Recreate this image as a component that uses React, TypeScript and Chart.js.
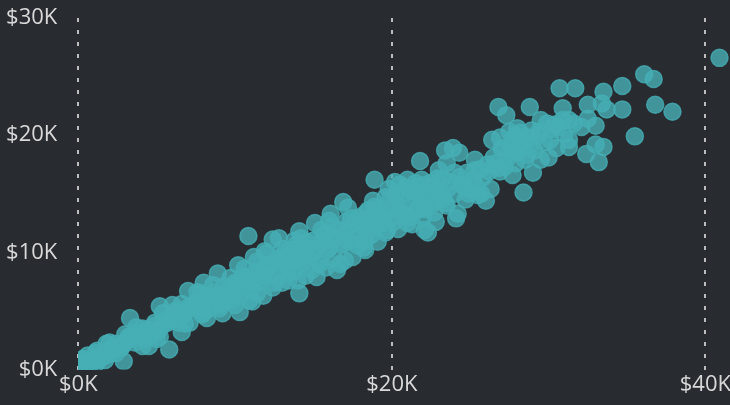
import React, { useEffect, useRef } from "react";
import { Chart, registerables } from "chart.js";

Chart.register(...registerables);

const xTicks = [0, 20, 40];
const yTicks = [0, 10, 20, 30];

// values, in $K
const costK = [
  40.9, 36.1, 36.7, 34.7, 30.7, 31.7, 33.5, 36.8, 37.9, 34.7,
  33.7, 33.4, 32.5, 30.9, 28.8, 26.8, 27.3, 35.5, 33.0, 33.5,
  32.4, 33.2, 31.3, 33.0, 32.5, 32.1, 30.9, 31.3, 31.3, 30.1,
  30.0, 29.5, 29.9, 29.0, 28.4, 27.7, 28.0, 26.4, 26.9, 26.5,
  26.8, 27.7, 28.3, 28.7, 29.1, 28.5, 27.4, 27.9, 27.2, 28.0,
  25.3, 23.4, 23.9, 24.3, 21.8, 18.9, 23.5, 23.0, 24.8, 25.3,
  25.8, 24.9, 25.4, 26.3, 26.0, 24.2, 24.1, 22.8, 22.3, 22.1,
  21.3, 19.7, 23.4, 20.2, 21.0, 21.9, 22.6, 23.2, 20.7, 21.5,
  22.3, 23.2, 21.0, 21.9, 22.8, 20.2, 19.6, 18.8, 19.1, 18.3,
  20.0, 20.7, 18.8, 18.3, 19.4, 16.9, 17.2, 16.1, 15.1, 16.0,
  14.1, 14.2, 12.4, 12.8, 11.9, 11.2, 10.2, 8.9, 8.0, 7.0,
  6.6, 5.4, 16.5, 15.2, 14.5, 13.0, 12.4, 11.4, 11.1, 10.3,
  9.2, 8.2, 7.1, 6.6, 4.1, 5.0, 18.2, 17.0, 3.3, 5.2,
  5.8, 10.85, 14.1, 2.9, 1.8, 2.4, 0.6, 1.1, 1.7, 4.1,
  3.5, 2.9, 2.4, 0.1, 0.2, 0.4, 0.3, 0.7, 0.9, 1.3,
  1.5, 2.0, 2.6, 3.1, 3.8, 4.4, 4.8, 5.5, 6.0, 6.3,
  6.9, 7.4, 7.7, 8.3, 8.7, 9.3, 9.6, 10.0, 10.5, 10.9,
  11.5, 11.8, 12.2, 12.7, 13.2, 13.6, 14.0, 14.6, 15.0, 15.5,
  15.9, 16.4, 17.0, 17.5, 17.9, 18.4, 19.0, 19.5, 6.2, 7.3,
  8.5, 9.0, 9.9, 10.7, 11.3, 12.0, 13.4, 14.3, 15.3, 16.2,
  16.8, 17.7, 18.6, 20.4, 21.2, 22.0, 22.5, 7.8, 9.4, 13.8,
  12.9, 15.7, 17.3, 19.2, 20.5, 21.7, 22.9, 23.6, 24.5, 25.0,
  25.6, 27.0, 27.5, 28.2, 28.9, 29.4, 30.4, 31.0, 0.1, 0.3,
  0.5, 0.8, 1.0, 1.2, 1.6, 2.2, 2.7, 3.4, 4.6, 5.7,
  1.0, 0.5, 0.2, 1.4, 1.9, 2.3, 2.8, 3.2, 3.6, 3.9,
  4.3, 4.7, 5.1, 5.4, 5.9, 6.4, 6.7, 7.0, 7.5, 7.9,
  8.1, 8.4, 8.8, 9.1, 9.5, 9.8, 10.1, 10.4, 10.8, 11.0,
  11.3, 11.6, 12.1, 12.3, 12.6, 12.9, 13.1, 13.3, 13.5, 13.7,
  13.9, 14.2, 14.4, 14.7, 15.0, 15.2, 15.4, 15.8, 16.0, 16.3,
  16.6, 16.9, 17.2, 17.4, 17.8, 18.1, 18.5, 18.7, 19.0, 19.3,
  19.6, 19.9, 20.1, 20.3, 20.6, 20.9, 21.1, 21.4, 21.6, 21.8,
  22.1, 22.4, 22.7, 23.0, 23.3, 23.7, 24.0, 24.3, 24.6, 25.2,
  25.5, 26.2, 26.6, 27.1, 27.6, 27.9, 28.1, 28.6, 28.9, 29.3,
  29.7, 30.2, 30.6, 31.6, 6.0, 6.8, 7.6, 8.0, 8.6, 9.0,
  9.7, 10.0, 10.6, 10.9, 11.4, 11.8, 12.0, 12.5, 13.0, 13.4,
  13.8, 14.0, 14.6, 14.9, 15.5, 15.8, 16.2, 16.7, 17.1, 17.5,
  17.9, 18.3, 18.9, 19.1, 19.8, 20.4, 21.0, 21.5, 22.0, 22.9,
  23.5, 24.0, 24.7, 25.7, 26.1, 26.9, 27.5, 29.5, 30.5, 3.0,
  3.7, 4.5, 4.9, 5.2, 2.0, 1.2,
];
const revenueK = [
  26.6, 25.2, 24.8, 24.2, 24.0, 24.0, 23.7, 22.6, 22.0, 22.2,
  22.2, 22.7, 22.6, 22.3, 22.4, 22.4, 21.7, 19.9, 19.2, 19.0,
  18.4, 17.7, 19.0, 20.8, 21.4, 20.7, 21.3, 21.3, 19.6, 19.6,
  18.1, 21.3, 21.0, 16.8, 15.1, 16.6, 20.6, 19.6, 19.8, 18.1,
  17.2, 19.6, 19.3, 19.8, 18.7, 17.9, 18.1, 17.6, 17.3, 18.5,
  17.9, 18.7, 18.9, 18.5, 17.8, 16.2, 17.6, 17.0, 16.8, 17.0,
  16.4, 15.0, 15.6, 15.4, 14.4, 13.3, 12.9, 12.6, 11.7, 11.9,
  12.4, 11.9, 14.2, 16.0, 16.2, 16.2, 15.6, 16.3, 15.0, 14.7,
  14.7, 15.0, 14.2, 14.4, 14.4, 14.2, 14.7, 14.4, 13.3, 13.3,
  13.0, 13.3, 12.1, 11.0, 12.5, 14.3, 13.8, 13.3, 12.5, 12.7,
  11.8, 11.2, 11.1, 11.2, 10.1, 9.6, 8.9, 8.2, 7.4, 6.7,
  5.6, 4.8, 8.5, 7.9, 8.0, 7.4, 7.0, 6.5, 5.8, 4.9,
  4.8, 4.4, 4.0, 3.2, 2.0, 2.6, 10.4, 9.3, 4.4, 5.4,
  1.7, 11.4, 6.5, 0.7, 2.2, 2.2, 1.2, 1.4, 0.8, 3.5,
  3.0, 2.2, 1.4, 0.3, 0.6, 0.2, 0.9, 0.4, 0.7, 1.0,
  1.2, 1.3, 1.9, 2.5, 2.9, 3.4, 3.7, 4.2, 4.5, 4.9,
  5.2, 5.6, 5.9, 6.2, 6.6, 7.1, 6.9, 7.4, 7.9, 7.6,
  8.3, 8.0, 8.9, 9.4, 9.0, 9.9, 9.4, 10.3, 10.0, 10.8,
  10.2, 11.3, 11.6, 11.1, 12.0, 11.8, 12.5, 13.1, 5.0, 5.4,
  6.0, 6.1, 6.4, 6.9, 7.5, 8.5, 8.6, 9.7, 9.2, 11.0,
  10.7, 12.6, 12.9, 13.6, 15.4, 15.7, 14.0, 6.5, 5.8, 8.4,
  9.5, 11.4, 12.2, 13.8, 15.8, 13.7, 15.4, 15.5, 15.8, 15.3,
  17.1, 18.9, 18.5, 20.2, 20.4, 20.3, 20.9, 20.1, 0.1, 0.1,
  0.4, 0.5, 0.2, 0.6, 1.1, 1.6, 1.8, 2.6, 3.0, 4.0,
  0.9, 0.6, 0.8, 1.0, 1.6, 1.8, 2.0, 2.8, 2.3, 3.0,
  2.6, 3.1, 3.3, 3.8, 4.2, 4.0, 4.7, 5.1, 5.3, 4.7,
  5.7, 5.2, 6.3, 5.6, 6.6, 6.0, 7.3, 6.4, 7.9, 7.0,
  8.3, 7.5, 8.9, 8.0, 9.3, 8.4, 9.8, 8.2, 10.2, 9.2,
  10.6, 9.0, 10.0, 9.4, 11.0, 10.3, 9.0, 11.6, 10.4, 9.5,
  11.9, 10.8, 11.0, 12.9, 10.6, 12.4, 13.6, 11.5, 12.7, 13.2,
  11.7, 14.5, 12.6, 15.0, 13.8, 15.5, 13.0, 15.2, 13.6, 15.0,
  13.7, 15.9, 13.4, 15.2, 14.6, 16.0, 15.0, 16.4, 15.6, 16.2,
  14.9, 16.9, 17.6, 18.8, 19.0, 20.0, 18.9, 18.3, 19.2, 20.0,
  19.4, 20.5, 20.7, 21.0, 5.5, 3.9, 6.6, 4.9, 7.2, 5.2,
  7.8, 5.5, 8.6, 5.9, 9.2, 6.3, 9.9, 7.4, 10.3, 7.6,
  11.0, 7.6, 10.9, 8.5, 11.9, 8.7, 12.2, 9.0, 12.6, 9.6,
  13.0, 10.2, 13.9, 10.9, 15.4, 12.0, 12.5, 15.9, 13.0, 16.3,
  14.0, 16.8, 14.5, 15.0, 17.5, 16.9, 20.3, 17.9, 18.9, 3.0,
  3.6, 2.0, 4.0, 2.8, 2.3, 1.6,
];

const money = (v: number | string) => `$${v}K`;

export default function App() {
  const ref = useRef<HTMLCanvasElement>(null);
  useEffect(() => {
    document.body.style.margin = "0";
    document.body.style.background = "#282b30";
    const chart = new Chart(ref.current!, {
      type: "scatter",
      data: {
        datasets: [
          {
            data: costK.map((x, i) => ({ x, y: revenueK[i] })),
            backgroundColor: "rgba(70,175,181,0.8)",
            borderColor: "rgba(70,175,181,0.8)",
            borderWidth: 1.5,
            pointRadius: 8.5,
            clip: { left: 0, bottom: 0, right: false, top: false },
          },
        ],
      },
      options: {
        responsive: false,
        animation: false,
        layout: { autoPadding: false, padding: { top: 18, right: 0, left: 0, bottom: 0 } },
        plugins: { legend: { display: false }, tooltip: { enabled: false } },
        scales: {
          x: {
            type: "linear",
            min: 0,
            max: 41.57,
            afterBuildTicks: (s: any) => {
              s.ticks = xTicks.map((value) => ({ value }));
            },
            afterFit: (s: any) => {
              s.height = 35.5;
              s.paddingLeft = 0;
              s.paddingRight = 0;
            },
            border: { display: false, dash: [4, 8] },
            grid: {
              color: "rgba(215,215,215,0.85)",
              lineWidth: 2,
              drawTicks: false,
            },
            ticks: {
              color: "#d9d9d9",
              font: { family: "'Open Sans'", size: 22 },
              padding: 2,
              maxRotation: 0,
              autoSkip: false,
              callback: money,
            },
          },
          y: {
            type: "linear",
            min: 0,
            max: 30,
            afterBuildTicks: (s: any) => {
              s.ticks = yTicks.map((value) => ({ value }));
            },
            afterFit: (s: any) => {
              s.width = 78.3;
              s.paddingTop = 0;
              s.paddingBottom = 0;
            },
            border: { display: false },
            grid: { display: false, drawTicks: false },
            ticks: {
              color: "#d9d9d9",
              font: { family: "'Open Sans'", size: 22 },
              padding: 21,
              callback: money,
            },
          },
        },
      },
    } as any);
    return () => chart.destroy();
  }, []);
  return <canvas ref={ref} width={730} height={405} style={{ display: "block", width: 730, height: 405 }} />;
}
